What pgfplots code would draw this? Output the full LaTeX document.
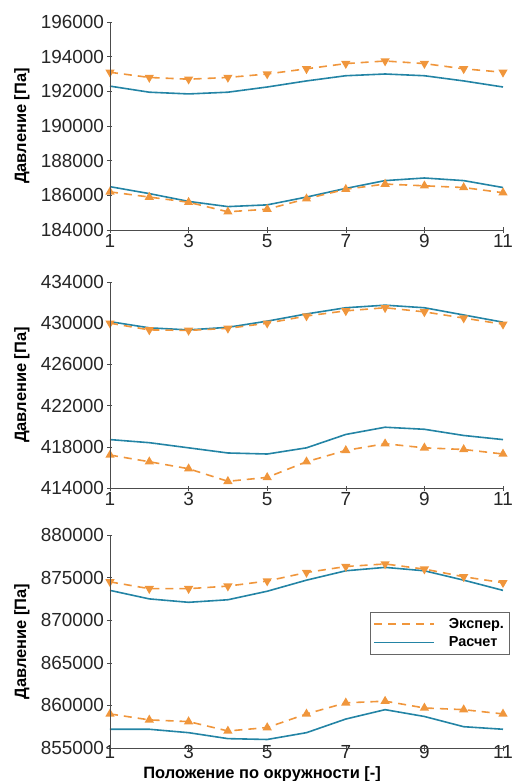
\documentclass[border=0pt]{standalone}
\usepackage{fontspec}
\setmainfont{Liberation Sans}
\usepackage{pgfplots}
\usepackage{pgfplotstable}
\pgfplotsset{compat=1.18}

\definecolor{expor}{RGB}{240,150,60}
\definecolor{calcbl}{RGB}{35,132,165}

% columns: position, experiment (upper), calculation (upper), experiment (lower), calculation (lower)
\pgfplotstableread{
x  eu      cu      el      cl
1  193100  192300  186200  186500
2  192800  191950  185900  186100
3  192700  191850  185600  185650
4  192800  191950  185050  185350
5  193000  192250  185200  185450
6  193300  192600  185800  185900
7  193600  192900  186350  186400
8  193750  193000  186650  186850
9  193600  192900  186550  187000
10 193300  192600  186450  186850
11 193100  192250  186150  186450
}\tabA
\pgfplotstableread{
x  eu      cu      el      cl
1  430000  430150  417200  418700
2  429350  429550  416550  418400
3  429300  429350  415870  417900
4  429500  429600  414650  417400
5  430000  430200  415030  417300
6  430700  430900  416550  417900
7  431200  431500  417650  419200
8  431500  431750  418300  419900
9  431100  431500  417900  419700
10 430500  430800  417740  419100
11 429900  430100  417300  418700
}\tabB
\pgfplotstableread{
x  eu      cu      el      cl
1  874500  873500  859000  857200
2  873700  872500  858300  857200
3  873700  872100  858100  856800
4  874000  872400  857000  856100
5  874600  873400  857400  856000
6  875600  874700  859000  856800
7  876300  875800  860300  858400
8  876600  876200  860500  859500
9  876000  875800  859700  858700
10 875100  874700  859500  857500
11 874400  873500  859000  857200
}\tabC

\pgfplotsset{
  panel/.style={
    scale only axis, width=393bp,
    xmin=1, xmax=11, xtick={1,3,5,7,9,11},
    % only the left and bottom spines are drawn
    axis line style={draw=none},
    xtick pos=bottom, ytick pos=left,
    after end axis/.code={
      \draw[black!70, line width=0.6bp]
        (rel axis cs:0,1) -- (rel axis cs:0,0) -- (rel axis cs:1,0);},
    tick style={black!70, line width=0.6bp},
    major tick length=5bp, tick align=center,
    tick label style={font=\fontsize{19}{21}\selectfont, text=black!85},
    /pgf/number format/fixed, /pgf/number format/precision=0,
    /pgf/number format/1000 sep={}, /pgf/number format/assume math mode=true,
    scaled y ticks=false,
    xticklabel style={yshift=2bp, text depth=0bp},
    ylabel={Давление [Па]},
    ylabel style={font=\bfseries\fontsize{16.5}{18}\selectfont,
      at={(axis description cs:-0.224,0.5)}, anchor=center},
    clip=false,
  },
  expline/.style={expor, line width=1.6bp, dash pattern=on 8bp off 6bp},
  calcline/.style={calcbl, line width=1.6bp},
  expdown/.style={expline, mark=triangle*, mark options={solid, rotate=180, fill=expor, draw=expor, scale=1.9}},
  expup/.style={expline, mark=triangle*, mark options={solid, fill=expor, draw=expor, scale=1.9}},
}

\begin{document}
\begin{tikzpicture}
\useasboundingbox (-110bp,-551bp) rectangle (405bp,230bp);

% top panel
\begin{axis}[panel, at={(0bp,0bp)}, anchor=south west, height=208bp,
  ymin=184000, ymax=196000, ytick={184000,186000,...,196000}]
  \addplot[calcline] table[x=x,y=cu] {\tabA};
  \addplot[expdown] table[x=x,y=eu] {\tabA};
  \addplot[calcline] table[x=x,y=cl] {\tabA};
  \addplot[expup] table[x=x,y=el] {\tabA};
\end{axis}

% middle panel
\begin{axis}[panel, at={(0bp,-258bp)}, anchor=south west, height=206bp,
  ymin=414000, ymax=434000, ytick={414000,418000,...,434000}]
  \addplot[calcline] table[x=x,y=cu] {\tabB};
  \addplot[expdown] table[x=x,y=eu] {\tabB};
  \addplot[calcline] table[x=x,y=cl] {\tabB};
  \addplot[expup] table[x=x,y=el] {\tabB};
\end{axis}

% bottom panel
\begin{axis}[panel, at={(0bp,-518bp)}, anchor=south west, height=213bp,
  ymin=855000, ymax=880000, ytick={855000,860000,...,880000},
  xticklabel style={yshift=4bp, text depth=0bp, inner ysep=1bp},
  xlabel={Положение по окружности [-]},
  xlabel style={font=\bfseries\fontsize{16.5}{18}\selectfont,
    at={(axis description cs:0.387,0)}, yshift=-26bp, anchor=center},
  legend style={at={(rel axis cs:0.662,0.638)}, anchor=north west,
    draw=black!60, fill=white, font=\bfseries\fontsize{14.5}{16}\selectfont,
    inner xsep=3bp, inner ysep=4bp, row sep=3bp},
  legend cell align=left,
  legend image code/.code={\draw[#1] (0bp,0bp) -- (60bp,0bp); \path (72bp,0bp);}]
  \addplot[calcline, forget plot] table[x=x,y=cu] {\tabC};
  \addplot[expdown, forget plot] table[x=x,y=eu] {\tabC};
  \addplot[calcline, forget plot] table[x=x,y=cl] {\tabC};
  \addplot[expup, forget plot] table[x=x,y=el] {\tabC};
  \addlegendimage{expline}
  \addlegendentry{Экспер.}
  \addlegendimage{calcline}
  \addlegendentry{Расчет}
\end{axis}
\end{tikzpicture}
\end{document}
